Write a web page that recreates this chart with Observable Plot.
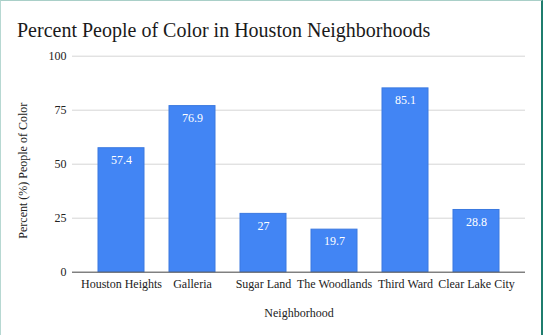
<!DOCTYPE html>
<html>
<head>
<meta charset="utf-8">
<script src="https://cdn.jsdelivr.net/npm/d3@7"></script>
<script src="https://cdn.jsdelivr.net/npm/@observablehq/plot@0.6"></script>
<style>
  html, body { margin: 0; padding: 0; background: #fff; }
  #wrap {
    position: relative; width: 540px; height: 334px; background: #fff;
    border-top: 1px solid #a9cfc8; border-left: 1px solid #b7d8d2; border-right: 2px solid #1f7d6e;
  }
  #title {
    position: absolute; left: 16px; top: 19px; font-family: "Liberation Serif", serif;
    font-size: 20px; line-height: 20px; color: #1a1a1a; white-space: nowrap;
  }
  #chart { position: absolute; left: 0; top: 0; }
</style>
</head>
<body>
<div id="wrap">
  <div id="chart"></div>
  <div id="title">Percent People of Color in Houston Neighborhoods</div>
</div>
<script>
const neighborhoods = ["Houston Heights", "Galleria", "Sugar Land", "The Woodlands", "Third Ward", "Clear Lake City"];
const percents = [57.4, 76.9, 27, 19.7, 85.1, 28.8];
const yTicks = [0, 25, 50, 75, 100];
const xTitle = "Neighborhood";
const yTitle = "Percent (%) People of Color";

const data = neighborhoods.map((n, i) => ({n, v: percents[i]}));

const chart = Plot.plot({
  width: 540,
  height: 334,
  marginTop: 54.7,
  marginBottom: 63.3,
  marginLeft: 71,
  marginRight: 16,
  style: {fontFamily: "Liberation Serif, serif", fontSize: "12px", color: "#222", background: "transparent"},
  x: {domain: neighborhoods, paddingInner: 0.3575, paddingOuter: 0.342, label: null},
  y: {domain: [0, 100], ticks: yTicks, label: null},
  marks: [
    Plot.gridY(yTicks, {stroke: "#d6d6d6", strokeOpacity: 1, strokeWidth: 1}),
    Plot.barY(data, {x: "n", y: "v", fill: "#4285f4", stroke: "#3b79e0", strokeWidth: 1}),
    Plot.ruleY([0], {stroke: "#555", strokeWidth: 1}),
    Plot.text(data, {x: "n", y: "v", text: d => String(d.v), dy: 12, fill: "white", fontSize: 12}),
    Plot.axisX({tickSize: 0, tickPadding: 7, label: null, fontSize: 12, fill: "#222"}),
    Plot.axisY(yTicks, {tickSize: 0, tickPadding: 6, label: null, fontSize: 12, fill: "#222"}),
    Plot.text([xTitle], {frameAnchor: "bottom", textAnchor: "middle", dy: 40.5, lineAnchor: "middle", fontSize: 12, fill: "#222"}),
    Plot.text([yTitle], {frameAnchor: "left", textAnchor: "middle", dx: -49, dy: 6.5, rotate: -90, lineAnchor: "middle", fontSize: 12, fill: "#222"})
  ]
});
document.getElementById("chart").appendChild(chart);
</script>
</body>
</html>
